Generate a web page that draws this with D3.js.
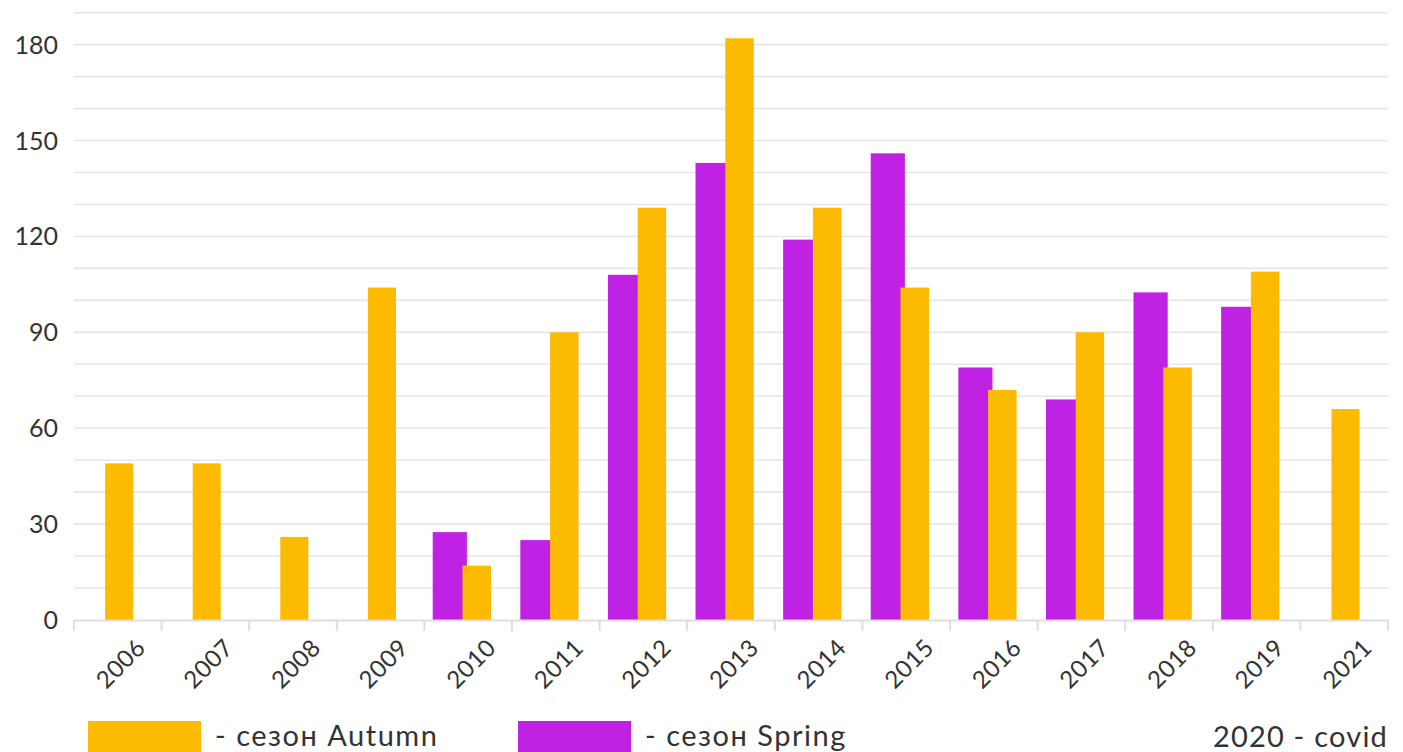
<!DOCTYPE html>
<meta charset="utf-8">
<script src="https://d3js.org/d3.v7.min.js"></script>
<style>
  body { margin: 0; background: #fff; }
  text { font-family: Lato, "Open Sans", sans-serif; fill: #333; }
</style>
<body>
<div id="draw"></div>
<script>

  var years = ["2006","2007","2008","2009","2010","2011","2012","2013","2014","2015","2016","2017","2018","2019","2021"];
  var autumn = [49, 49, 26, 104, 17, 90, 129, 182, 129, 104, 72, 90, 79, 109, 66];
  var spring = [null, null, null, null, 27.5, 25, 108, 143, 119, 146, 79, 69, 102.5, 98, null];
  var yTicks = [0, 30, 60, 90, 120, 150, 180];
  var legendLabels = ["- сезон Autumn", "- сезон Spring"];
  var note = "2020 - covid";

  var width = 1403, height = 752;
  var colors = {autumn: "#fcba00", spring: "#bf22e3"};

  var svg = d3.select("#draw").append("svg")
    .attr("width", width).attr("height", height);

  var x = d3.scaleBand().domain(years).range([74, 1388]);
  var y = d3.scaleLinear().domain([0, 190]).range([620, 12.7]);

  // gridlines every 10
  svg.append("g").selectAll("line")
    .data(d3.range(10, 200, 10))
    .enter().append("line")
    .attr("x1", 74).attr("x2", 1388)
    .attr("y1", function(d){ return y(d); })
    .attr("y2", function(d){ return y(d); })
    .style("stroke", "#e6e6e6").style("stroke-width", 1.6);

  // y labels
  svg.append("g").selectAll("text")
    .data(yTicks)
    .enter().append("text")
    .attr("x", 58)
    .attr("y", function(d){ return y(d); })
    .attr("dy", "0.36em")
    .attr("text-anchor", "end")
    .style("font-size", "25px")
    .text(function(d){ return d; });

  // bars
  var bw = x.bandwidth();
  var bars = svg.append("g");
  years.forEach(function(yr, i){
    var x0 = x(yr);
    if (spring[i] != null) {
      bars.append("rect")
        .attr("x", x0 + bw * 0.095).attr("width", bw * 0.39)
        .attr("y", y(spring[i])).attr("height", y(0) - y(spring[i]))
        .style("fill", colors.spring);
      bars.append("rect")
        .attr("x", x0 + bw * 0.435).attr("width", bw * 0.325)
        .attr("y", y(autumn[i])).attr("height", y(0) - y(autumn[i]))
        .style("fill", colors.autumn);
    } else {
      bars.append("rect")
        .attr("x", x0 + bw * 0.355).attr("width", bw * 0.32)
        .attr("y", y(autumn[i])).attr("height", y(0) - y(autumn[i]))
        .style("fill", colors.autumn);
    }
  });

  // x axis
  var xAxis = d3.axisBottom(x).tickSize(0).tickFormat("");
  var ax = svg.append("g").attr("transform", "translate(0,620)").call(xAxis);
  ax.select(".domain").style("stroke", "#dedede").style("stroke-width", 2);
  svg.append("g").selectAll("line")
    .data(years.concat(["end"]))
    .enter().append("line")
    .attr("x1", function(d, i){ return 74 + i * bw; })
    .attr("x2", function(d, i){ return 74 + i * bw; })
    .attr("y1", 620).attr("y2", 631)
    .style("stroke", "#dedede").style("stroke-width", 2);

  svg.append("g").selectAll("text")
    .data(years)
    .enter().append("text")
    .attr("transform", function(d){ return "translate(" + (x(d) + bw / 2 + 17) + ",637) rotate(-45)"; })
    .attr("text-anchor", "end")
    .attr("dy", "0.72em")
    .style("font-size", "24px")
    .style("letter-spacing", "0.5px")
    .text(function(d){ return d; });

  // legend
  var legend = svg.append("g");
  [[88, colors.autumn, legendLabels[0]], [518, colors.spring, legendLabels[1]]].forEach(function(l){
    legend.append("rect").attr("x", l[0]).attr("y", 721).attr("width", 113).attr("height", 31).style("fill", l[1]);
    legend.append("text").attr("x", l[0] + 127).attr("y", 746)
      .style("font-size", "29px").style("letter-spacing", "1.5px").text(l[2]);
  });
  svg.append("text").attr("x", 1388).attr("y", 747).attr("text-anchor", "end")
    .style("font-size", "29px").style("letter-spacing", "1.2px").text(note);

</script>
</body>
